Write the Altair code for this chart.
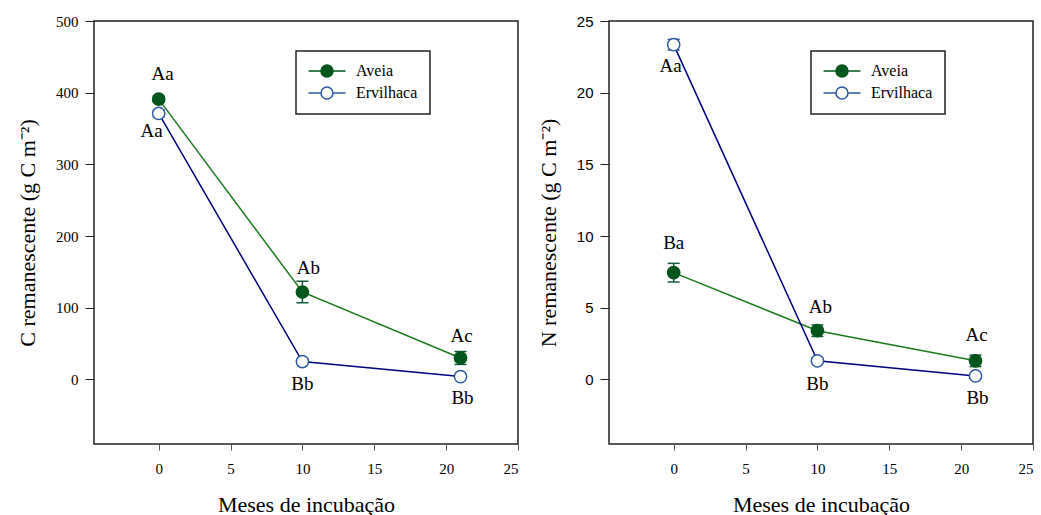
import altair as alt
import pandas as pd

months = [0, 10, 21]
series = ["Aveia", "Ervilhaca"]

# C remanescente
c_aveia = [391, 122, 30]
c_aveia_err = [4, 15, 9]
c_erv = [371, 25, 4]
c_erv_err = [5, 3, 2]
c_aveia_lab = ["Aa", "Ab", "Ac"]
c_erv_lab = ["Aa", "Bb", "Bb"]

# N remanescente
n_aveia = [7.45, 3.4, 1.3]
n_aveia_err = [0.65, 0.4, 0.4]
n_erv = [23.35, 1.3, 0.25]
n_erv_err = [0.37, 0.2, 0.15]
n_aveia_lab = ["Ba", "Ab", "Ac"]
n_erv_lab = ["Aa", "Bb", "Bb"]

x_ticks = [0, 5, 10, 15, 20, 25]
c_ticks = [0, 100, 200, 300, 400, 500]
n_ticks = [0, 5, 10, 15, 20, 25]

# label pixel offsets (style)
c_aveia_off = [(4, -25), (6, -24), (1, -22)]
c_erv_off = [(-7, 18), (0, 22), (2, 21)]
n_aveia_off = [(0, -30), (3, -24), (1, -26)]
n_erv_off = [(-3, 21), (0, 23), (2, 22)]

GREEN_LINE = "#1c7a1c"
GREEN_FILL = "#00561b"
GREEN_ERR = "#145a3c"
NAVY = "#000080"
BLUE = "#2c5aa0"

# line-through-circle legend glyph (circle radius 1 unit, line to +-3.08 units)
LEGEND_PATH = ("M-3.08,0H-1 M1,0H3.08 "
               "M-1,0A1,1 0 1,1 1,0A1,1 0 1,1 -1,0Z")


def make_df(av, av_err, er, er_err, av_lab, er_lab):
    rows = []
    for i, m in enumerate(months):
        rows.append(dict(month=m, series="Aveia", value=av[i],
                         lo=av[i] - av_err[i], hi=av[i] + av_err[i], label=av_lab[i]))
    for i, m in enumerate(months):
        rows.append(dict(month=m, series="Ervilhaca", value=er[i],
                         lo=er[i] - er_err[i], hi=er[i] + er_err[i], label=er_lab[i]))
    return pd.DataFrame(rows)


def make_panel(df, ydom, yticks, ytitle, ylabelfont, av_off, er_off):
    xs = alt.X("month:Q", scale=alt.Scale(domain=[-4.5, 25], nice=False, zero=False),
               axis=alt.Axis(values=x_ticks, title="Meses de incubação", grid=False,
                             domain=False, tickSize=6, tickColor="#555",
                             labelPadding=11, labelFont="Liberation Serif",
                             labelFontSize=15, labelColor="black",
                             titleFont="Liberation Serif", titleFontSize=22,
                             titleFontWeight="normal", titlePadding=18,
                             titleColor="black"))
    ys = alt.Y("value:Q", scale=alt.Scale(domain=ydom, nice=False, zero=False),
               axis=alt.Axis(values=yticks, title=ytitle, grid=False, domain=False,
                             tickSize=9, tickColor="#222", labelPadding=7,
                             labelFont=ylabelfont, labelFontSize=15,
                             labelColor="black", titleFont="Liberation Serif",
                             titleFontSize=22, titleFontWeight="normal",
                             titlePadding=16, titleColor="black"))
    base = alt.Chart(df)
    line_layers = []
    err_layers = []
    for s, lcol, col in [("Aveia", GREEN_LINE, GREEN_ERR), ("Ervilhaca", NAVY, BLUE)]:
        sub = base.transform_filter(alt.datum.series == s)
        line_layers.append(sub.mark_line(strokeWidth=1.5, color=lcol).encode(x=xs, y=ys))
        err_layers.append(sub.mark_rule(strokeWidth=1.5, color=col).encode(
            x="month:Q", y="lo:Q", y2="hi:Q"))
        err_layers.append(sub.mark_tick(orient="horizontal", size=12, thickness=1.5,
                                        color=col, opacity=1).encode(x="month:Q", y="lo:Q"))
        err_layers.append(sub.mark_tick(orient="horizontal", size=12, thickness=1.5,
                                        color=col, opacity=1).encode(x="month:Q", y="hi:Q"))
    leg = alt.Legend(title=None, orient="none", legendX=202, legendY=30,
                     strokeColor="#222", fillColor="white", padding=12,
                     labelFont="Liberation Serif", labelFontSize=16, labelColor="black",
                     symbolType=LEGEND_PATH, symbolSize=144, symbolStrokeWidth=1.5,
                     symbolOffset=11, rowPadding=4, labelOffset=21)
    points = base.mark_point(shape="circle", size=150, strokeWidth=1.5, opacity=1).encode(
        x="month:Q", y="value:Q",
        fill=alt.Fill("series:N", scale=alt.Scale(domain=series, range=[GREEN_FILL, "white"]),
                      legend=leg),
        stroke=alt.Stroke("series:N", scale=alt.Scale(domain=series, range=[GREEN_FILL, BLUE]),
                          legend=leg),
    )
    text_layers = []
    for s, offs in [("Aveia", av_off), ("Ervilhaca", er_off)]:
        for m, (dx, dy) in zip(months, offs):
            text_layers.append(
                base.transform_filter((alt.datum.series == s) & (alt.datum.month == m))
                .mark_text(font="Liberation Serif", fontSize=19, color="black",
                           baseline="middle", align="center", dx=dx, dy=dy)
                .encode(x="month:Q", y="value:Q", text="label:N"))
    return alt.layer(*line_layers, *err_layers, points, *text_layers).properties(
        width=424, height=423)


df_c = make_df(c_aveia, c_aveia_err, c_erv, c_erv_err, c_aveia_lab, c_erv_lab)
df_n = make_df(n_aveia, n_aveia_err, n_erv, n_erv_err, n_aveia_lab, n_erv_lab)

left = make_panel(df_c, [-90, 500], c_ticks, "C remanescente (g C m⁻²)", "Liberation Serif",
                  c_aveia_off, c_erv_off)
right = make_panel(df_n, [-4.5, 25], n_ticks, "N remanescente (g C m⁻²)", "Liberation Sans",
                   n_aveia_off, n_erv_off)

chart = alt.hconcat(left, right, spacing=16).resolve_scale(
    x="independent", y="independent",
    fill="independent", stroke="independent"
).resolve_legend(fill="independent", stroke="independent").configure_view(
    stroke="#222", strokeWidth=1.5
).configure_legend(
    strokeWidth=1.5
).properties(padding={"left": 15, "top": 13, "right": 0, "bottom": 0})

chart.save("out.html", embed_options={"renderer": "svg", "actions": False})
